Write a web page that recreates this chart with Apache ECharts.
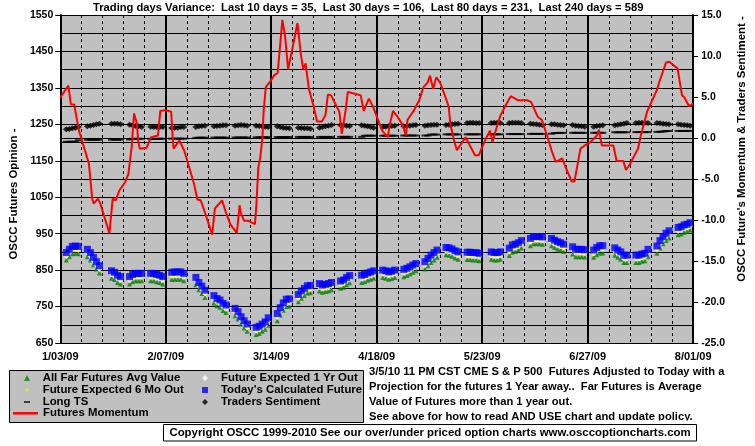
<!DOCTYPE html>
<html>
<head>
<meta charset="utf-8">
<title>OSCC S&amp;P 500 Futures</title>
<script src="https://cdn.jsdelivr.net/npm/echarts@6/dist/echarts.min.js"></script>
<style>
  html, body { margin: 0; padding: 0; background: #ffffff; }
  #chart { width: 755px; height: 446px; }
</style>
</head>
<body>
<div id="chart"></div>
<script>
// x values are days counted from 1/03/09 (Saturday)
const tickLabels = ['1/03/09', '2/07/09', '3/14/09', '4/18/09', '5/23/09', '6/27/09', '8/01/09'];

// trading days (holidays 1/19, 2/16, 4/10, 5/25, 7/03 left out)
const tradingDays = [
  2, 3, 4, 5, 6, 9, 10, 11, 12, 13, 17, 18, 19, 20, 23, 24, 25, 26, 27,
  30, 31, 32, 33, 34, 37, 38, 39, 40, 41, 45, 46, 47, 48, 51, 52, 53, 54, 55,
  58, 59, 60, 61, 62, 65, 66, 67, 68, 69, 72, 73, 74, 75, 76, 79, 80, 81, 82, 83,
  86, 87, 88, 89, 90, 93, 94, 95, 96, 100, 101, 102, 103, 104, 107, 108, 109, 110, 111,
  114, 115, 116, 117, 118, 121, 122, 123, 124, 125, 128, 129, 130, 131, 132,
  135, 136, 137, 138, 139, 143, 144, 145, 146, 149, 150, 151, 152, 153,
  156, 157, 158, 159, 160, 163, 164, 165, 166, 167, 170, 171, 172, 173, 174,
  177, 178, 179, 180, 184, 185, 186, 187, 188, 191, 192, 193, 194, 195,
  198, 199, 200, 201, 202, 205, 206, 207, 208, 209
];

// Today's Calculated Future (left axis)
const todaysFuture = [
  898, 907, 915, 916, 915, 907, 898, 885, 873, 862, 848, 844, 836, 832, 832, 838, 841, 841, 841,
  841, 841, 838, 836, 832, 844, 845, 845, 845, 841, 830, 816, 806, 795, 780, 772, 768, 759, 754,
  745, 736, 722, 711, 702, 693, 696, 702, 708, 719, 731, 747, 760, 770, 771, 783, 793, 800, 807, 808,
  813, 809, 811, 813, 816, 820, 823, 830, 835, 836, 838, 842, 845, 848, 850, 848, 845, 847, 850,
  852, 855, 859, 864, 868, 873, 882, 891, 898, 905, 912, 911, 908, 903, 900,
  899, 899, 898, 898, 896, 900, 898, 898, 900, 910, 919, 921, 925, 931,
  937, 942, 942, 942, 941, 937, 932, 928, 925, 921, 914, 907, 907, 907, 906,
  905, 912, 917, 917, 911, 905, 900, 891, 891, 891, 891, 894, 896, 907,
  916, 931, 942, 951, 958, 967, 969, 974, 976, 980
];

// Future Expected 1 Yr Out (left axis)
const future1Yr = [
  889, 898, 906, 907, 906, 898, 889, 876, 864, 853, 839, 835, 827, 823, 823, 829, 832, 832, 832,
  832, 832, 829, 827, 823, 835, 836, 836, 836, 832, 821, 807, 797, 786, 771, 763, 759, 750, 745,
  736, 727, 713, 702, 693, 684, 687, 693, 699, 710, 722, 738, 751, 761, 762, 774, 784, 791, 798, 799,
  804, 800, 802, 804, 807, 811, 814, 821, 826, 827, 829, 833, 836, 839, 841, 839, 836, 838, 841,
  843, 846, 850, 855, 859, 864, 873, 882, 889, 896, 903, 902, 899, 894, 891,
  890, 890, 889, 889, 887, 891, 889, 889, 891, 901, 910, 912, 916, 922,
  928, 933, 933, 933, 932, 928, 923, 919, 916, 912, 905, 898, 898, 898, 897,
  896, 903, 908, 908, 902, 896, 891, 882, 882, 882, 882, 885, 887, 898,
  907, 922, 933, 942, 949, 958, 960, 965, 967, 971
];

// Future Expected 6 Mo Out (left axis)
const future6Mo = [
  886, 895, 903, 904, 903, 895, 886, 873, 861, 850, 836, 832, 824, 820, 820, 826, 829, 829, 829,
  829, 829, 826, 824, 820, 832, 833, 833, 833, 829, 818, 804, 794, 783, 768, 760, 756, 747, 742,
  733, 724, 710, 699, 690, 681, 684, 690, 696, 707, 719, 735, 748, 758, 759, 771, 781, 788, 795, 796,
  801, 797, 799, 801, 804, 808, 811, 818, 823, 824, 826, 830, 833, 836, 838, 836, 833, 835, 838,
  840, 843, 847, 852, 856, 861, 870, 879, 886, 893, 900, 899, 896, 891, 888,
  887, 887, 886, 886, 884, 888, 886, 886, 888, 898, 907, 909, 913, 919,
  925, 930, 930, 930, 929, 925, 920, 916, 913, 909, 902, 895, 895, 895, 894,
  893, 900, 905, 905, 899, 893, 888, 879, 879, 879, 879, 882, 884, 895,
  904, 919, 930, 939, 946, 955, 957, 962, 964, 968
];

// All Far Futures Avg Value (left axis)
const farFutures = [
  878, 887, 895, 896, 895, 887, 878, 865, 853, 842, 828, 824, 816, 812, 812, 818, 821, 821, 821,
  821, 821, 818, 816, 812, 824, 825, 825, 825, 821, 810, 796, 786, 775, 760, 752, 748, 739, 734,
  725, 716, 702, 691, 682, 673, 676, 682, 688, 699, 711, 727, 740, 750, 751, 763, 773, 780, 787, 788,
  793, 789, 791, 793, 796, 800, 803, 810, 815, 816, 818, 822, 825, 828, 830, 828, 825, 827, 830,
  832, 835, 839, 844, 848, 853, 862, 871, 878, 885, 892, 891, 888, 883, 880,
  879, 879, 878, 878, 876, 880, 878, 878, 880, 890, 899, 901, 905, 911,
  917, 922, 922, 922, 921, 917, 912, 908, 905, 901, 894, 887, 887, 887, 886,
  885, 892, 897, 897, 891, 885, 880, 871, 871, 871, 871, 874, 876, 887,
  896, 911, 922, 931, 938, 947, 949, 954, 956, 960
];

// Long TS (right axis)
const longTS = [
  -0.46, -0.46, -0.45, -0.45, -0.28, -0.22, -0.22, -0.22, -0.22, -0.22, -0.21, -0.21, -0.20, -0.20,
  -0.18, -0.10, -0.10, -0.10, -0.10, -0.10, -0.10, -0.10, -0.09, -0.09, -0.08, -0.08, -0.08, -0.08, -0.08,
  0.02, 0.04, 0.04, 0.04, 0.05, 0.05, 0.05, 0.05, 0.05, 0.06, 0.06, 0.06, 0.06, 0.06,
  0.08, 0.08, 0.10, 0.10, 0.10, 0.12, 0.12, 0.12, 0.12, 0.12, 0.13, 0.13, 0.13, 0.13, 0.13,
  0.13, 0.13, 0.13, 0.13, 0.13, 0.14, 0.14, 0.14, 0.14, 0.14, 0.28, 0.28, 0.28, 0.28,
  0.28, 0.28, 0.28, 0.28, 0.28, 0.30, 0.30, 0.30, 0.30, 0.30, 0.30, 0.30, 0.42, 0.42, 0.42,
  0.44, 0.44, 0.44, 0.44, 0.44, 0.45, 0.45, 0.45, 0.45, 0.45, 0.45, 0.45, 0.45, 0.45,
  0.48, 0.48, 0.48, 0.48, 0.48, 0.50, 0.50, 0.50, 0.50, 0.50, 0.52, 0.60, 0.62, 0.62, 0.62,
  0.63, 0.63, 0.63, 0.63, 0.63, 0.63, 0.63, 0.63, 0.63, 0.70, 0.70, 0.70, 0.70, 0.70,
  0.72, 0.72, 0.72, 0.72, 0.72, 0.74, 0.76, 0.80, 0.84, 0.86, 0.86, 0.86, 0.86, 0.86, 0.86
];

// Traders Sentiment (right axis)
const tradersSentiment = [
  1.06, 1.10, 1.18, 1.26, 1.34, 1.42, 1.50, 1.59, 1.67, 1.75, 1.75, 1.75, 1.75, 1.67,
  1.63, 1.54, 1.46, 1.42, 1.34, 1.36, 1.34, 1.33, 1.34, 1.35, 1.22, 1.26, 1.26, 1.34, 1.34,
  1.34, 1.42, 1.46, 1.50, 1.42, 1.46, 1.50, 1.54, 1.54, 1.50, 1.54, 1.59, 1.54, 1.50,
  1.50, 1.46, 1.42, 1.38, 1.34, 1.42, 1.34, 1.26, 1.22, 1.18, 1.26, 1.22, 1.18, 1.18, 1.14,
  1.26, 1.34, 1.42, 1.50, 1.59, 1.59, 1.54, 1.50, 1.46, 1.54, 1.50, 1.42, 1.34, 1.26,
  1.34, 1.38, 1.42, 1.46, 1.50, 1.42, 1.46, 1.50, 1.54, 1.59, 1.50, 1.54, 1.59, 1.63, 1.63,
  1.59, 1.63, 1.67, 1.71, 1.75, 1.83, 1.87, 1.87, 1.83, 1.83, 1.83, 1.87, 1.87, 1.83,
  1.83, 1.87, 1.87, 1.87, 1.83, 1.75, 1.71, 1.67, 1.63, 1.59, 1.67, 1.67, 1.63, 1.59, 1.54,
  1.59, 1.50, 1.46, 1.42, 1.38, 1.38, 1.46, 1.50, 1.54, 1.54, 1.63, 1.67, 1.75, 1.83,
  1.83, 1.87, 1.87, 1.87, 1.83, 1.83, 1.79, 1.75, 1.71, 1.67, 1.67, 1.63, 1.59, 1.54, 1.50
];

// Futures Momentum (right axis): day position and value of each vertex
const momentumDays = [
  0, 2.7, 3.5, 4.6, 6.2, 9.5, 10.6, 11.1, 12.5, 13.3, 16.3, 17.4, 18.4, 19.6, 21.5, 22.6, 23.7,
  24.5, 25.4, 25.9, 26.4, 28.6, 30.2, 32.4, 33.2, 34.8, 36.8, 37.3, 37.6, 39.5, 41.1, 42.8, 44.4,
  45.5, 46.6, 48.2, 50.4, 51.3, 53.7, 54.8, 56.4, 58.6, 59.5, 59.9, 61.0, 62.4, 64.6, 65.1, 65.7,
  66.4, 67.1, 67.5, 68.2, 69.5, 71.1, 72.1, 72.7, 73.7, 74.6, 75.6, 76.9, 78.7, 79.8, 80.6, 81.4,
  82.5, 84.1, 85.2, 86.8, 88.0, 88.8, 89.9, 91.2, 92.6, 93.4, 94.7, 95.4, 97.8, 99.7, 100.7, 102.4,
  103.8, 106.8, 108.7, 109.3, 110.4, 111.9, 113.6, 114.7, 115.2, 116.3, 117.4, 119.1, 120.5, 121.8,
  122.7, 123.7, 124.8, 126.1, 127.8, 128.9, 129.4, 130.5, 131.6, 134.5, 137.6, 138.9, 140.8, 142.6,
  143.4, 144.3, 145.9, 147.5, 149.5, 151.9, 154.9, 156.2, 158.4, 159.8, 161.7, 163.0, 164.4, 166.6,
  167.7, 169.7, 170.6, 172.6, 173.7, 175.9, 178.1, 178.7, 179.7, 183.5, 184.6, 186.8, 187.7, 189.0,
  191.7, 192.5, 194.7, 196.4, 197.9, 199.0, 201.0, 202.1, 203.7, 204.8, 206.3, 207.0, 208.6, 210
];
const momentumValues = [
  4.9, 6.4, 4.1, 4.1, 0.9, -3.1, -7.4, -8.0, -7.4, -8.0, -11.6, -7.4, -7.6, -6.4, -5.4, -4.4, -1.1,
  3.0, 1.8, -0.5, -1.3, -1.2, 0.1, 0.3, 3.3, 3.4, 3.2, 0.1, -1.3, -0.3, -1.5, -3.6, -5.6,
  -7.5, -7.6, -9.3, -11.8, -8.6, -7.6, -8.9, -10.5, -11.6, -8.2, -9.1, -10.1, -10.1, -10.5, -8.0, -3.6,
  -2.3, 0.1, 3.4, 6.2, 6.8, 7.7, 7.9, 10.3, 14.4, 12.4, 8.4, 10.7, 14.0, 10.3, 8.4, 9.1,
  6.0, 3.8, 2.0, 2.0, 2.8, 5.3, 5.2, 4.2, 3.2, 0.5, 3.4, 5.6, 5.4, 5.2, 3.3, 4.8,
  3.8, 0.9, 0.1, 1.6, 3.3, 2.6, 1.6, 0.3, 2.2, 2.8, 3.4, 4.6, 6.2, 6.7,
  7.6, 6.0, 7.4, 6.7, 5.0, 3.8, 1.8, -0.1, -1.5, 0.1, -2.1, -2.1, -0.4, 0.9,
  -0.5, 0.7, 2.6, 3.8, 5.1, 4.6, 4.6, 4.4, 2.6, 2.2, 0.1, -1.5, -2.9, -2.5,
  -3.6, -5.3, -5.3, -1.3, -1.0, -0.5, 0.3, 1.0, -0.9, -0.9, -2.8, -2.8, -3.9, -3.2,
  -1.3, 0.1, 3.2, 4.6, 5.8, 7.1, 9.2, 9.3, 8.8, 8.5, 5.2, 5.0, 3.9, 4.2
];

const FONT = '"Liberation Sans", Arial, sans-serif';
const BOLD = { fontFamily: FONT, fontWeight: 'bold', color: '#000000' };

const chart = echarts.init(document.getElementById('chart'), null, { renderer: 'canvas' });

const byDay = (values) => tradingDays.map((d, i) => [d, values[i]]);

const option = {
  backgroundColor: '#ffffff',
  animation: false,
  title: {
    text: 'Trading days Variance:  Last 10 days = 35,  Last 30 days = 106,  Last 80 days = 231,  Last 240 days = 589',
    left: 93,
    top: 2,
    padding: 0,
    textStyle: Object.assign({ fontSize: 11.2 }, BOLD)
  },
  grid: {
    left: 56,
    top: 15,
    width: 641.5,
    height: 328,
    show: true,
    backgroundColor: '#c0c0c0',
    borderWidth: 0
  },
  legend: [
    {
      // first column, marker items
      orient: 'vertical',
      left: 24,
      top: 372,
      padding: 0,
      itemWidth: 6,
      itemHeight: 6,
      itemGap: 0,
      selectedMode: false,
      textStyle: Object.assign({ fontSize: 11.4, lineHeight: 12, padding: [0, 0, 0, 7.7] }, BOLD),
      data: [
        { name: 'All Far Futures Avg Value', icon: 'triangle' },
        { name: 'Future Expected 6 Mo Out', icon: 'path://M0,0M7,7M3,1.5H4V3H5.5V4H4V5.5H3V4H1.5V3H3Z' },
        { name: 'Long TS', icon: 'path://M0,0H7V2H0Z' }
      ]
    },
    {
      // red line item
      orient: 'vertical',
      left: 13,
      top: 407.3,
      padding: 0,
      itemWidth: 25,
      itemHeight: 2.5,
      selectedMode: false,
      textStyle: Object.assign({ fontSize: 11.4, lineHeight: 12 }, BOLD),
      data: [{ name: 'Futures Momentum', icon: 'rect' }]
    },
    {
      // second column
      orient: 'vertical',
      left: 202,
      top: 372,
      padding: 0,
      itemWidth: 6,
      itemHeight: 6,
      itemGap: 0,
      selectedMode: false,
      textStyle: Object.assign({ fontSize: 11.4, lineHeight: 12, padding: [0, 0, 0, 8] }, BOLD),
      data: [
        { name: 'Future Expected 1 Yr Out', icon: 'diamond' },
        { name: "Today's Calculated Future", icon: 'rect' },
        { name: 'Traders Sentiment', icon: 'diamond' }
      ]
    }
  ],
  xAxis: {
    type: 'value',
    min: 0,
    max: 210,
    interval: 35,
    axisLine: { lineStyle: { color: '#000000', width: 1 } },
    axisTick: { length: 4, lineStyle: { color: '#000000', width: 1 } },
    axisLabel: Object.assign({
      fontSize: 11,
      margin: 8,
      formatter: (v) => tickLabels[Math.round(v / 35)]
    }, BOLD),
    splitLine: { show: true, lineStyle: { color: '#000000', width: 2 } },
    // weekly dashed lines
    minorTick: { show: false, splitNumber: 5 },
    minorSplitLine: { show: true, lineStyle: { color: '#000000', width: 1, type: [3, 3] } }
  },
  yAxis: [
    {
      type: 'value',
      min: 650,
      max: 1550,
      interval: 100,
      name: 'OSCC Futures Opinion -',
      nameLocation: 'middle',
      nameRotate: 90,
      nameGap: 36,
      nameTextStyle: Object.assign({ fontSize: 11.4, padding: [0, 30, 0, 0] }, BOLD),
      axisLine: { show: true, lineStyle: { color: '#000000', width: 2 } },
      axisTick: { show: true, length: 5, lineStyle: { color: '#000000' } },
      axisLabel: Object.assign({ fontSize: 10.5, margin: 7, formatter: (v) => String(v) }, BOLD),
      splitLine: { show: true, lineStyle: { color: '#000000', width: 1 } },
      minorTick: { show: false, splitNumber: 2 },
      minorSplitLine: { show: true, lineStyle: { color: '#000000', width: 1 } }
    },
    {
      type: 'value',
      position: 'right',
      min: -25,
      max: 15,
      interval: 5,
      name: "OSCC Future's Momentum & Traders Sentiment -",
      nameLocation: 'middle',
      nameRotate: 90,
      nameGap: 36,
      nameTextStyle: Object.assign({ fontSize: 11.4, padding: [0, 0, 0, 60] }, BOLD),
      axisLine: { show: true, lineStyle: { color: '#000000', width: 2 } },
      axisTick: { show: true, length: 5, lineStyle: { color: '#000000' } },
      axisLabel: Object.assign({ fontSize: 10.5, margin: 8, formatter: (v) => v.toFixed(1) }, BOLD),
      splitLine: { show: false }
    }
  ],
  series: [
    {
      name: 'All Far Futures Avg Value',
      type: 'scatter',
      symbol: 'triangle',
      symbolSize: 5,
      itemStyle: { color: '#008000' },
      data: byDay(farFutures)
    },
    {
      name: 'Future Expected 1 Yr Out',
      type: 'scatter',
      symbol: 'diamond',
      symbolSize: 6,
      itemStyle: { color: '#ffffff' },
      data: byDay(future1Yr)
    },
    {
      name: 'Future Expected 6 Mo Out',
      type: 'scatter',
      symbol: 'path://M1,0H2V1H3V2H2V3H1V2H0V1H1Z',
      symbolSize: 3,
      itemStyle: { color: '#ffff00' },
      data: byDay(future6Mo)
    },
    {
      name: "Today's Calculated Future",
      type: 'scatter',
      symbol: 'rect',
      symbolSize: 7,
      itemStyle: { color: '#0000ff' },
      data: byDay(todaysFuture)
    },
    {
      name: 'Long TS',
      type: 'scatter',
      yAxisIndex: 1,
      symbol: 'rect',
      symbolSize: [7, 2],
      itemStyle: { color: '#000000' },
      data: byDay(longTS)
    },
    {
      name: 'Traders Sentiment',
      type: 'scatter',
      yAxisIndex: 1,
      symbol: 'diamond',
      symbolSize: [7, 6],
      itemStyle: { color: '#000000' },
      data: byDay(tradersSentiment)
    },
    {
      name: 'Futures Momentum',
      type: 'line',
      yAxisIndex: 1,
      symbol: 'none',
      itemStyle: { color: '#ff0000' },
      lineStyle: { color: '#ff0000', width: 2 },
      data: momentumDays.map((d, i) => [d, momentumValues[i]])
    }
  ],
  graphic: [
    {
      // legend box
      type: 'rect',
      z: 0,
      shape: { x: 9.5, y: 370.5, width: 354, height: 52 },
      style: { fill: '#c0c0c0', stroke: '#000000', lineWidth: 1 }
    },
    {
      type: 'text',
      x: 369,
      y: 365,
      style: {
        text: '3/5/10 11 PM CST CME S & P 500  Futures Adjusted to Today with a\n' +
              'Projection for the futures 1 Year away..  Far Futures is Average\n' +
              'Value of Futures more than 1 year out.\n' +
              'See above for how to read AND USE chart and update policy.',
        font: 'bold 11.2px ' + FONT,
        lineHeight: 14.8,
        verticalAlign: 'top',
        fill: '#000000'
      }
    },
    {
      // the last note line is cut off at its bottom
      type: 'rect',
      z: 10,
      shape: { x: 365, y: 420.5, width: 380, height: 3.5 },
      style: { fill: '#ffffff' }
    },
    {
      type: 'rect',
      z: 10,
      shape: { x: 163.5, y: 424.5, width: 533, height: 16.5 },
      style: { fill: '#ffffff', stroke: '#000000', lineWidth: 1 }
    },
    {
      type: 'text',
      z: 11,
      x: 430,
      y: 433,
      style: {
        text: 'Copyright OSCC 1999-2010 See our over/under priced option charts www.osccoptioncharts.com',
        font: 'bold 11.4px ' + FONT,
        align: 'center',
        verticalAlign: 'middle',
        fill: '#000000'
      }
    }
  ]
};

chart.setOption(option);
</script>
</body>
</html>
